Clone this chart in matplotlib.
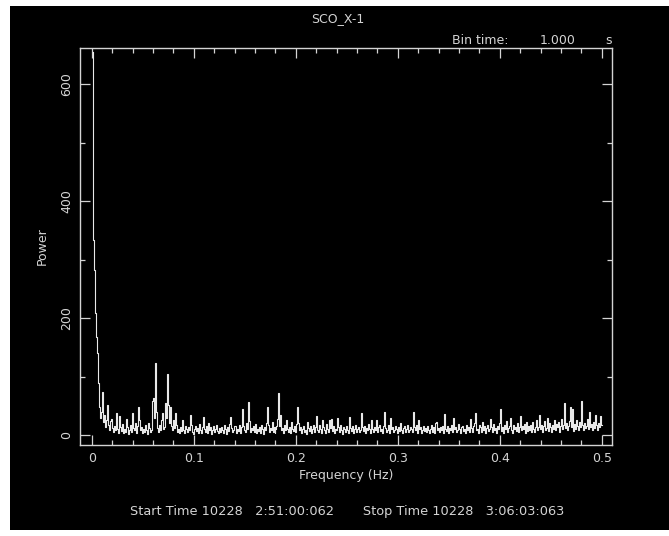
import matplotlib
matplotlib.use("Agg")
import matplotlib.pyplot as plt
from matplotlib.ticker import MultipleLocator
import numpy as np

# power spectrum of the 1 s binned light curve
source_name = "SCO_X-1"
bin_time = 1.000
bins_per_interval = 1024
start_time = "10228   2:51:00:062"
stop_time = "10228   3:06:03:063"

power = [
    655, 333, 282, 208, 168, 140, 89, 48, 30, 40, 73, 22, 35, 14, 26, 51,
    18, 9, 24, 28, 12, 5, 16, 8, 37, 11, 4, 32, 14, 7, 19, 3,
    10, 6, 27, 13, 2, 9, 17, 5, 37, 12, 8, 21, 4, 15, 48, 26,
    9, 14, 3, 11, 6, 18, 8, 2, 20, 12, 5, 9, 58, 63, 30, 123,
    40, 12, 6, 17, 9, 25, 37, 11, 14, 55, 30, 104, 52, 20, 48, 15,
    8, 26, 12, 38, 18, 6, 10, 3, 14, 7, 26, 9, 4, 16, 11, 5,
    13, 8, 34, 17, 6, 2, 10, 15, 7, 12, 4, 19, 9, 3, 14, 31,
    11, 6, 16, 4, 20, 9, 13, 2, 8, 15, 5, 11, 18, 7, 3, 12,
    6, 14, 9, 4, 17, 10, 2, 13, 7, 19, 31, 12, 5, 9, 16, 15,
    4, 11, 7, 18, 3, 13, 44, 16, 8, 6, 21, 10, 56, 24, 5, 12,
    9, 15, 6, 19, 3, 11, 7, 14, 4, 17, 10, 2, 13, 8, 20, 48,
    18, 6, 12, 9, 22, 5, 14, 3, 10, 16, 27, 72, 15, 34, 8, 12,
    4, 17, 9, 26, 11, 6, 14, 3, 22, 10, 7, 15, 5, 19, 48, 21,
    8, 13, 4, 11, 16, 6, 9, 2, 22, 12, 7, 15, 3, 10, 18, 6,
    13, 32, 9, 5, 17, 11, 4, 26, 14, 8, 3, 19, 10, 6, 26, 12,
    27, 7, 15, 4, 11, 9, 29, 13, 5, 18, 8, 2, 14, 10, 6, 16,
    9, 4, 31, 12, 7, 15, 3, 11, 18, 6, 10, 14, 5, 9, 37, 13,
    7, 16, 4, 12, 8, 19, 10, 3, 26, 11, 6, 14, 9, 26, 5, 13,
    17, 7, 11, 4, 15, 40, 12, 6, 9, 18, 3, 29, 10, 14, 5, 8,
    16, 11, 4, 13, 7, 20, 9, 3, 12, 15, 6, 10, 18, 5, 8, 14,
    11, 6, 40, 13, 8, 17, 4, 26, 10, 14, 3, 9, 16, 7, 12, 5,
    15, 9, 4, 11, 18, 6, 13, 3, 20, 22, 8, 12, 5, 14, 9, 16,
    4, 36, 11, 7, 15, 3, 12, 9, 17, 6, 29, 10, 14, 5, 8, 19,
    11, 4, 13, 16, 7, 10, 3, 18, 9, 14, 6, 28, 12, 5, 15, 20,
    38, 8, 11, 4, 17, 13, 6, 22, 9, 15, 3, 12, 18, 7, 10, 28,
    14, 5, 19, 9, 12, 4, 16, 11, 21, 45, 7, 13, 3, 17, 10, 24,
    6, 12, 15, 30, 9, 4, 18, 11, 14, 7, 21, 5, 13, 32, 8, 16,
    10, 19, 4, 12, 23, 7, 15, 9, 17, 5, 22, 11, 6, 14, 25, 8,
    13, 35, 10, 18, 6, 16, 24, 9, 12, 30, 7, 20, 14, 5, 17, 11,
    25, 8, 19, 13, 22, 6, 15, 27, 10, 18, 55, 12, 21, 9, 16, 24,
    48, 14, 45, 7, 19, 11, 26, 15, 9, 22, 13, 58, 18, 8, 21, 12,
    16, 27, 10, 40, 14, 19, 8, 23, 12, 35, 17, 9, 20, 14, 33, 18,
]

freq = np.arange(1, len(power) + 1) / (bins_per_interval * bin_time)

fg = "#d4d4d4"
W, H = 669, 536

fig = plt.figure(figsize=(W / 100, H / 100), dpi=100)
fig.patch.set_facecolor("white")

# black plotting page, leaving a thin white margin
page = fig.add_axes([10 / W, 1 - 530 / H, 1 - 10 / W, 524 / H], zorder=0)
page.set_facecolor("black")
page.set_xticks([])
page.set_yticks([])
for s in page.spines.values():
    s.set_visible(False)

ax = fig.add_axes([80 / W, 1 - 445 / H, 532 / W, 397 / H], zorder=1)
ax.set_facecolor("black")
ax.step(freq, power, where="mid", color="#e8e8e8", lw=0.8)

ax.set_xlim(-0.0115, 0.5101)
ax.set_ylim(-17, 662)
ax.xaxis.set_minor_locator(MultipleLocator(0.02))
ax.yaxis.set_major_locator(MultipleLocator(200))
ax.yaxis.set_minor_locator(MultipleLocator(100))
ax.set_xticks([0, 0.1, 0.2, 0.3, 0.4, 0.5])
ax.set_xticklabels(["0", "0.1", "0.2", "0.3", "0.4", "0.5"])

for s in ax.spines.values():
    s.set_color(fg)
    s.set_linewidth(1.0)
ax.tick_params(which="both", direction="in", top=True, right=True,
               colors=fg, labelsize=9, pad=5)
ax.tick_params(which="major", length=7, width=0.9)
ax.tick_params(which="minor", length=3.5, width=0.9)
ax.tick_params(axis="y", labelrotation=90)
for lab in ax.get_yticklabels():
    lab.set_va("center")

ax.set_xlabel("Frequency (Hz)", color=fg, fontsize=9, labelpad=3)
ax.set_ylabel("Power", color=fg, fontsize=9, labelpad=8)

fig.text(338 / W, 1 - 19 / H, source_name, color=fg, fontsize=9,
         ha="center", va="center", zorder=2)
fig.text(452 / W, 1 - 40 / H, "Bin time:", color=fg, fontsize=9,
         ha="left", va="center", zorder=2)
fig.text(576 / W, 1 - 40 / H, f"{bin_time:.3f}", color=fg, fontsize=9,
         ha="right", va="center", zorder=2)
fig.text(609 / W, 1 - 40 / H, "s", color=fg, fontsize=9,
         ha="center", va="center", zorder=2)
fig.text(347 / W, 1 - 512 / H,
         f"Start Time {start_time}       Stop Time {stop_time}",
         color=fg, fontsize=9.3, ha="center", va="center", zorder=2)

fig.savefig("out.png", dpi=100, facecolor=fig.get_facecolor())
